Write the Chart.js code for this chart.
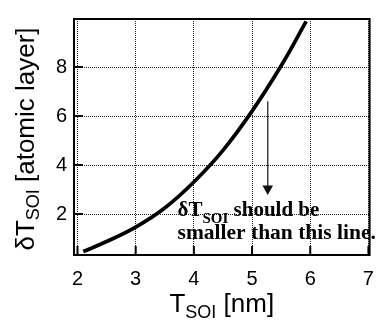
<!DOCTYPE html>
<html>
<head>
<meta charset="utf-8">
<script src="https://cdn.jsdelivr.net/npm/chart.js@4.4.0/dist/chart.umd.min.js"></script>
<style>
  html, body { margin: 0; padding: 0; background: #fff; }
  #wrap { width: 386px; height: 320px; }
</style>
</head>
<body>
<div id="wrap"><canvas id="chart" width="386" height="320"></canvas></div>
<script>
// curve: T_SOI (nm) vs allowed dT_SOI (atomic layers)
const tsoi = [2.1, 2.5, 3.0, 3.5, 4.0, 4.5, 5.0, 5.5, 5.93];
const dtsoi = [0.47, 0.88, 1.47, 2.25, 3.31, 4.6, 6.2, 8.05, 9.86];

const xTicks = [2, 3, 4, 5, 6, 7];
const yTicks = [2, 4, 6, 8];
const xRange = [1.94, 7.02];
const yRange = [0.33, 9.96];

// annotation anchors, in data units
const arrowFrom = { x: 5.27, y: 6.6 };
const arrowTo = { x: 5.27, y: 2.78 };
const noteAt = { x: 3.72, y: 1.92 };

const SANS = '"Liberation Sans", Arial, sans-serif';
const SERIF = '"Liberation Serif", "Times New Roman", serif';

// text with a subscript part; parts = [{t, size, family, dy}]
function partsWidth(ctx, parts, weight) {
    let w = 0;
    parts.forEach(p => {
        ctx.font = `${weight} ${p.size}px ${p.family}`;
        w += ctx.measureText(p.t).width;
    });
    return w;
}

function drawParts(ctx, parts, weight) {
    let x = 0;
    parts.forEach(p => {
        ctx.font = `${weight} ${p.size}px ${p.family}`;
        ctx.fillText(p.t, x, p.dy || 0);
        x += ctx.measureText(p.t).width;
    });
}

const framePlugin = {
    id: 'frame',
    afterDatasetsDraw(chart) {
        const { ctx, chartArea: a, scales: { x, y } } = chart;
        ctx.save();

        // box + inward ticks
        ctx.strokeStyle = '#000';
        ctx.lineWidth = 2;
        ctx.strokeRect(a.left, a.top, a.right - a.left, a.bottom - a.top);
        ctx.beginPath();
        xTicks.forEach(v => {
            const px = x.getPixelForValue(v);
            ctx.moveTo(px, a.bottom);
            ctx.lineTo(px, a.bottom - 9);
        });
        yTicks.forEach(v => {
            const py = y.getPixelForValue(v);
            ctx.moveTo(a.left, py);
            ctx.lineTo(a.left + 9, py);
        });
        ctx.stroke();

        // arrow
        const ax = x.getPixelForValue(arrowFrom.x);
        const ay0 = y.getPixelForValue(arrowFrom.y);
        const ay1 = y.getPixelForValue(arrowTo.y);
        ctx.strokeStyle = '#222';
        ctx.fillStyle = '#111';
        ctx.lineWidth = 1.3;
        ctx.beginPath();
        ctx.moveTo(ax, ay0);
        ctx.lineTo(ax, ay1 - 8);
        ctx.stroke();
        ctx.beginPath();
        ctx.moveTo(ax, ay1);
        ctx.lineTo(ax - 5.3, ay1 - 9.5);
        ctx.lineTo(ax + 5.3, ay1 - 9.5);
        ctx.closePath();
        ctx.fill();

        // note
        ctx.fillStyle = '#000';
        ctx.textBaseline = 'alphabetic';
        ctx.textAlign = 'left';
        const nx = x.getPixelForValue(noteAt.x);
        const ny = y.getPixelForValue(noteAt.y);
        ctx.translate(nx, ny);
        drawParts(ctx, [
            { t: 'δT', size: 21, family: SERIF },
            { t: 'SOI', size: 15, family: SERIF, dy: 7.4 },
            { t: ' should be', size: 21, family: SERIF }
        ], 'bold');
        drawParts(ctx, [{ t: 'smaller than this line.', size: 21.5, family: SERIF, dy: 23.4 }], 'bold');
        ctx.restore();
    },
    afterDraw(chart) {
        const { ctx, chartArea: a } = chart;
        ctx.save();
        ctx.fillStyle = '#000';
        ctx.textBaseline = 'alphabetic';
        ctx.textAlign = 'left';

        // x title
        const xParts = [
            { t: 'T', size: 26, family: SANS },
            { t: 'SOI', size: 18, family: SANS, dy: 6.6 },
            { t: ' [nm]', size: 26, family: SANS }
        ];
        const xw = partsWidth(ctx, xParts, 'normal');
        ctx.save();
        ctx.translate((a.left + a.right) / 2 - xw / 2, 311.7);
        drawParts(ctx, xParts, 'normal');
        ctx.restore();

        // y title, rotated
        const yParts = [
            { t: 'δT', size: 26, family: SANS },
            { t: 'SOI', size: 18, family: SANS, dy: 5 },
            { t: ' [atomic layer]', size: 26, family: SANS }
        ];
        const yw = partsWidth(ctx, yParts, 'normal');
        ctx.translate(34, (a.top + a.bottom) / 2 + 2 + yw / 2);
        ctx.rotate(-Math.PI / 2);
        drawParts(ctx, yParts, 'normal');
        ctx.restore();
    }
};

new Chart(document.getElementById('chart'), {
    type: 'line',
    data: {
        datasets: [{
            data: tsoi.map((t, i) => ({ x: t, y: dtsoi[i] })),
            borderColor: '#000',
            borderWidth: 3.7,
            pointRadius: 0,
            tension: 0.4,
            fill: false
        }]
    },
    options: {
        responsive: false,
        animation: false,
        devicePixelRatio: 1,
        layout: { padding: { top: 9, right: 4, left: 0, bottom: 0 } },
        plugins: { legend: { display: false }, tooltip: { enabled: false } },
        scales: {
            x: {
                type: 'linear',
                min: xRange[0],
                max: xRange[1],
                afterBuildTicks: s => { s.ticks = xTicks.map(v => ({ value: v })); },
                afterFit: s => { s.height = 65; },
                grid: { color: '#222', lineWidth: 1, drawTicks: false },
                border: { display: false, dash: [1, 1] },
                ticks: { color: '#000', font: { family: SANS, size: 20 }, padding: 12, maxRotation: 0, autoSkip: false }
            },
            y: {
                type: 'linear',
                min: yRange[0],
                max: yRange[1],
                afterBuildTicks: s => { s.ticks = yTicks.map(v => ({ value: v })); },
                afterFit: s => { s.width = 74; },
                grid: { color: '#222', lineWidth: 1, drawTicks: false },
                border: { display: false, dash: [1, 1] },
                ticks: { color: '#000', font: { family: SANS, size: 20 }, padding: 7, autoSkip: false }
            }
        }
    },
    plugins: [framePlugin]
});
</script>
</body>
</html>
